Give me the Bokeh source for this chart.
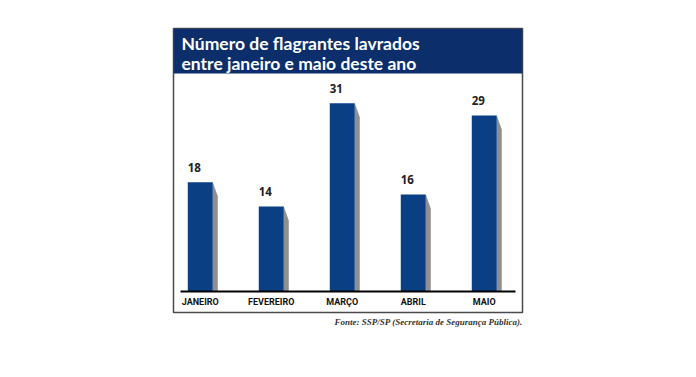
from bokeh.plotting import figure
from bokeh.models import Range1d, BoxAnnotation, Label, Title, ColumnDataSource
from bokeh.core.properties import value
from bokeh.embed import file_html
from bokeh.resources import INLINE

# ---- data ----
categories = ["JANEIRO", "FEVEREIRO", "MARÇO", "ABRIL", "MAIO"]
values = [18, 14, 31, 16, 29]
value_labels = [str(v) for v in values]
title_lines = ["Número de flagrantes lavrados", "entre janeiro e maio deste ano"]
source_note = "Fonte: SSP/SP (Secretaria de Segurança Pública)."

# ---- geometry (pixels in page coords) ----
W, H = 680, 361
box_l, box_r, box_t, box_b = 173, 522, 28, 312
base_px = 291
ppu_y = 6.07          # px per value unit
ppu_x = 71.0          # px per category step
x_start = -0.377

def dy(px):
    return px / ppu_y

def dx(px):
    return px / ppu_x

def ydata(page_y):
    return (base_px - page_y) / ppu_y

def xdata(page_x):
    return x_start + (page_x - box_l) / ppu_x

y_start = ydata(box_b)
y_end = ydata(box_t)
x_end = xdata(box_r)

xs = list(range(len(categories)))
bar_w = dx(25)

p = figure(width=W, height=H, output_backend="svg", toolbar_location=None,
           x_range=Range1d(x_start, x_end), y_range=Range1d(y_start, y_end),
           x_axis_location=None, y_axis_location=None,
           min_border_left=box_l, min_border_right=W - box_r,
           min_border_top=box_t, min_border_bottom=H - box_b)
p.grid.visible = False
p.outline_line_color = "#4a4a4a"
p.outline_line_width = 1.5
p.background_fill_color = "white"
p.border_fill_color = "white"

# header band
p.add_layout(BoxAnnotation(bottom=ydata(73), fill_color="#0c2f6c", fill_alpha=1.0,
                           line_color=None, level="underlay"))
for line, base in zip(title_lines, [43, 63]):
    p.add_layout(Label(x=xdata(181), y=ydata(base), text=line,
                       text_color="white", text_font="Lato", text_font_style="bold",
                       text_font_size="17.5px", text_baseline="alphabetic"))

# shadows (slanted gray strip on the right of each bar)
sh_w = dx(5)
sh_drop = dy(14)
sx, sy = [], []
for x, v in zip(xs, values):
    r = x + bar_w / 2
    sx.append([r, r + sh_w, r + sh_w, r])
    sy.append([v, v - sh_drop, 0, 0])
p.patches(sx, sy, fill_color="#8f8f8f", line_color=None)

src = ColumnDataSource(dict(x=xs, top=values, cat=categories, lab=value_labels,
                            lx=[x - bar_w / 2 for x in xs],
                            ly=[v + dy(15) for v in values]))
p.vbar(x="x", top="top", bottom=0, width=bar_w, source=src,
       fill_color="#0a3f84", line_color=None)

# baseline
p.segment(x0=xdata(180), x1=xdata(515), y0=0, y1=0, line_color="black", line_width=2)

# value labels
p.text(x="lx", y="ly", text="lab", source=src, text_font=value("Open Sans"),
       text_font_style="bold", text_font_size="11.5px", text_color="#222222",
       text_align="left", text_baseline="alphabetic")

# category labels
p.text(x="x", y=ydata(301), text="cat", source=src, text_font=value("Roboto"),
       text_font_style="bold", text_font_size="9px", text_color="#111111",
       text_align="center", text_baseline="alphabetic")

# source note
p.add_layout(Title(text=source_note, align="right", text_font="Liberation Serif",
                   text_font_style="bold italic", text_font_size="9px",
                   text_color="#333333", standoff=4), "below")

open("out.html", "w").write(file_html(p, INLINE))
